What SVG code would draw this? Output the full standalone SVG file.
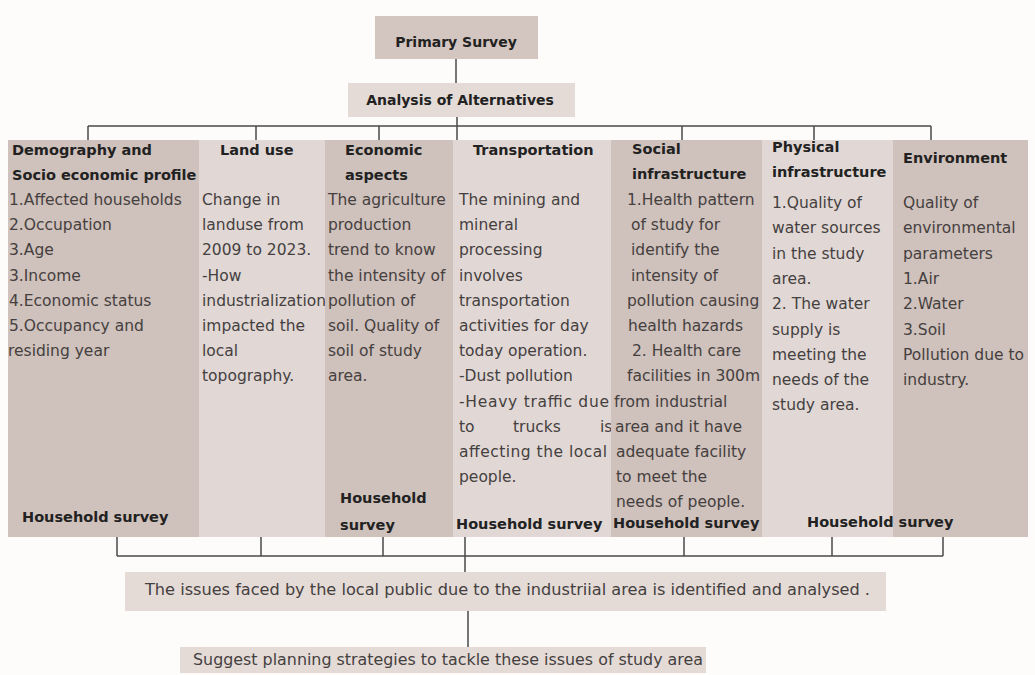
<svg xmlns="http://www.w3.org/2000/svg" width="1035" height="675" viewBox="0 0 1035 675">
  <style>
    .bg { fill: #fdfcfb; }
    .dark { fill: #cfc1bb; }
    .light { fill: #e1d8d5; }
    .box1 { fill: #d3c5bf; }
    .box2 { fill: #e4dbd7; }
    .hd { font-family: "DejaVu Sans", "Liberation Sans", sans-serif; font-weight: bold; font-size: 14.5px; fill: #222; }
    .tp { font-family: "DejaVu Sans", "Liberation Sans", sans-serif; font-weight: bold; font-size: 14px; fill: #222; }
    .bd { font-family: "DejaVu Sans", "Liberation Sans", sans-serif; font-size: 15.5px; fill: #454040; }
    .ft { font-family: "DejaVu Sans", "Liberation Sans", sans-serif; font-size: 15px; fill: #454040; }
    .ln { stroke: #4a4a4a; stroke-width: 1.5; fill: none; }
  </style>

  <rect class="bg" x="0" y="0" width="1035" height="675"/>

  <!-- Top boxes -->
  <g id="primary-survey">
    <rect class="box1" x="375" y="16" width="163" height="43"/>
    <text class="tp" x="456" y="47" text-anchor="middle">Primary Survey</text>
  </g>
  <g id="analysis-of-alternatives">
    <rect class="box2" x="348" y="83" width="227" height="34"/>
    <text class="tp" x="460" y="105" text-anchor="middle">Analysis of Alternatives</text>
  </g>

  <!-- Study columns -->
  <g id="demography">
    <rect class="dark" x="8" y="140" width="191" height="397"/>
    <text class="hd"><tspan x="12" y="155">Demography and</tspan><tspan x="12" y="180">Socio economic profile</tspan></text>
    <text class="bd">
      <tspan x="9" y="205">1.Affected households</tspan>
      <tspan x="9" y="230.2">2.Occupation</tspan>
      <tspan x="9" y="255.4">3.Age</tspan>
      <tspan x="9" y="280.6">3.Income</tspan>
      <tspan x="9" y="305.8">4.Economic status</tspan>
      <tspan x="9" y="331">5.Occupancy and</tspan>
      <tspan x="8" y="356.2">residing year</tspan>
    </text>
    <text class="hd" x="22" y="522">Household survey</text>
  </g>

  <g id="land-use">
    <rect class="light" x="199" y="140" width="126" height="397"/>
    <text class="hd" x="220" y="155">Land use</text>
    <text class="bd">
      <tspan x="202" y="205">Change in</tspan>
      <tspan x="202" y="230.2">landuse from</tspan>
      <tspan x="202" y="255.4">2009 to 2023.</tspan>
      <tspan x="202" y="280.6">-How</tspan>
      <tspan x="202" y="305.8">industrialization</tspan>
      <tspan x="202" y="331">impacted the</tspan>
      <tspan x="202" y="356.2">local</tspan>
      <tspan x="202" y="381.4">topography.</tspan>
    </text>
  </g>

  <g id="economic-aspects">
    <rect class="dark" x="325" y="140" width="128" height="397"/>
    <text class="hd"><tspan x="345" y="155">Economic</tspan><tspan x="345" y="180">aspects</tspan></text>
    <text class="bd">
      <tspan x="328" y="205">The agriculture</tspan>
      <tspan x="328" y="230.2">production</tspan>
      <tspan x="328" y="255.4">trend to know</tspan>
      <tspan x="328" y="280.6">the intensity of</tspan>
      <tspan x="328" y="305.8">pollution of</tspan>
      <tspan x="328" y="331">soil. Quality of</tspan>
      <tspan x="328" y="356.2">soil of study</tspan>
      <tspan x="328" y="381.4">area.</tspan>
    </text>
    <text class="hd"><tspan x="340" y="503">Household</tspan><tspan x="340" y="530">survey</tspan></text>
  </g>

  <g id="transportation">
    <rect class="light" x="453" y="140" width="158" height="397"/>
    <text class="hd" x="473" y="155">Transportation</text>
    <text class="bd">
      <tspan x="459" y="205">The mining and</tspan>
      <tspan x="459" y="230.2">mineral</tspan>
      <tspan x="459" y="255.4">processing</tspan>
      <tspan x="459" y="280.6">involves</tspan>
      <tspan x="459" y="305.8">transportation</tspan>
      <tspan x="459" y="331">activities for day</tspan>
      <tspan x="459" y="356.2">today operation.</tspan>
      <tspan x="459" y="381.4">-Dust pollution</tspan>
    </text>
    <text class="bd" x="459" y="406.6" textLength="150" lengthAdjust="spacing">-Heavy traffic due</text>
    <text class="bd"><tspan x="459" y="431.8">to</tspan><tspan x="513" y="431.8">trucks</tspan><tspan x="600" y="431.8">is</tspan></text>
    <text class="bd" x="459" y="457" textLength="148" lengthAdjust="spacing">affecting the local</text>
    <text class="bd" x="459" y="482.2">people.</text>
    <text class="hd" x="456" y="529">Household survey</text>
  </g>

  <g id="social-infrastructure">
    <rect class="dark" x="611" y="140" width="151" height="397"/>
    <text class="hd"><tspan x="632" y="154">Social</tspan><tspan x="632" y="179">infrastructure</tspan></text>
    <text class="bd">
      <tspan x="627" y="205">1.Health pattern</tspan>
      <tspan x="631" y="230.2">of study for</tspan>
      <tspan x="631" y="255.4">identify the</tspan>
      <tspan x="631" y="280.6">intensity of</tspan>
      <tspan x="627" y="305.8">pollution causing</tspan>
      <tspan x="628" y="331">health hazards</tspan>
      <tspan x="632" y="356.2">2. Health care</tspan>
      <tspan x="627" y="381.4">facilities in 300m</tspan>
      <tspan x="614" y="406.6">from industrial</tspan>
      <tspan x="615" y="431.8">area and it have</tspan>
      <tspan x="616" y="457">adequate facility</tspan>
      <tspan x="616" y="482.2">to meet the</tspan>
      <tspan x="616" y="507.4">needs of people.</tspan>
    </text>
    <text class="hd" x="613" y="528">Household survey</text>
  </g>

  <g id="physical-infrastructure">
    <rect class="light" x="762" y="140" width="131" height="397"/>
    <text class="hd"><tspan x="772" y="152">Physical</tspan><tspan x="772" y="177">infrastructure</tspan></text>
    <text class="bd">
      <tspan x="772" y="208">1.Quality of</tspan>
      <tspan x="772" y="233.3">water  sources</tspan>
      <tspan x="772" y="258.6">in the study</tspan>
      <tspan x="772" y="283.9">area.</tspan>
      <tspan x="772" y="309.2">2. The water</tspan>
      <tspan x="772" y="334.5">supply is</tspan>
      <tspan x="772" y="359.8">meeting the</tspan>
      <tspan x="772" y="385.1">needs of the</tspan>
      <tspan x="772" y="410.4">study area.</tspan>
    </text>
  </g>

  <g id="environment">
    <rect class="dark" x="893" y="140" width="135" height="397"/>
    <text class="hd" x="903" y="163">Environment</text>
    <text class="bd">
      <tspan x="903" y="208">Quality of</tspan>
      <tspan x="903" y="233.3">environmental</tspan>
      <tspan x="903" y="258.6">parameters</tspan>
      <tspan x="903" y="283.9">1.Air</tspan>
      <tspan x="903" y="309.2">2.Water</tspan>
      <tspan x="903" y="334.5">3.Soil</tspan>
      <tspan x="903" y="359.8">Pollution due to</tspan>
      <tspan x="903" y="385.1">industry.</tspan>
    </text>
    <!-- shared survey label sits across the physical / environment columns -->
    <text class="hd" x="807" y="527">Household survey</text>
  </g>

  <!-- Outcome boxes -->
  <g id="issues-identified">
    <rect class="box2" x="125" y="572" width="761" height="39"/>
    <text class="ft" x="145" y="595" textLength="725" lengthAdjust="spacingAndGlyphs">The issues faced by the local public due to the industriial area is identified and analysed .</text>
  </g>
  <g id="planning-strategies">
    <rect class="box2" x="180" y="647" width="526" height="26"/>
    <text class="ft" x="193" y="665" textLength="510" lengthAdjust="spacingAndGlyphs">Suggest planning strategies to tackle these issues of study area</text>
  </g>

  <!-- Connectors -->
  <g id="connectors" class="ln">
    <line x1="456" y1="59" x2="456" y2="83"/>
    <line x1="457" y1="117" x2="457" y2="140"/>
    <line x1="88" y1="126" x2="931" y2="126"/>
    <line x1="88" y1="126" x2="88" y2="140"/>
    <line x1="256" y1="126" x2="256" y2="140"/>
    <line x1="379" y1="126" x2="379" y2="140"/>
    <line x1="682" y1="126" x2="682" y2="140"/>
    <line x1="814" y1="126" x2="814" y2="140"/>
    <line x1="931" y1="126" x2="931" y2="140"/>

    <line x1="117" y1="556" x2="943" y2="556"/>
    <line x1="117" y1="537" x2="117" y2="556"/>
    <line x1="261" y1="537" x2="261" y2="556"/>
    <line x1="383" y1="537" x2="383" y2="556"/>
    <line x1="465" y1="537" x2="465" y2="572"/>
    <line x1="684" y1="537" x2="684" y2="556"/>
    <line x1="832" y1="537" x2="832" y2="556"/>
    <line x1="943" y1="537" x2="943" y2="556"/>

    <line x1="468" y1="611" x2="468" y2="647"/>
  </g>
</svg>
